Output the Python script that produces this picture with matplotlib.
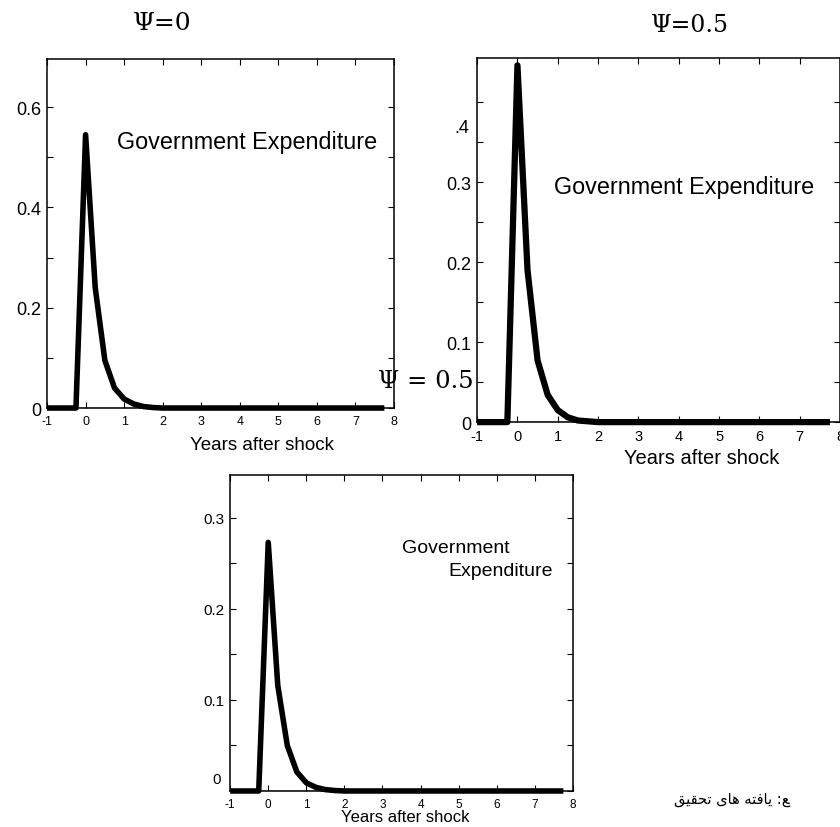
import numpy as np
import matplotlib
matplotlib.use("Agg")
import matplotlib.pyplot as plt

plt.rcParams['font.family'] = ['Liberation Sans', 'DejaVu Sans']

# quarters after the shock
years = [-1.0, -0.75, -0.5, -0.25, 0.0, 0.25, 0.5, 0.75, 1.0, 1.25, 1.5, 1.75,
         2.0, 2.25, 2.5, 2.75, 3.0, 3.25, 3.5, 3.75, 4.0, 4.25, 4.5, 4.75,
         5.0, 5.25, 5.5, 5.75, 6.0, 6.25, 6.5, 6.75, 7.0, 7.25, 7.5, 7.75]

# government expenditure response, psi = 0
gov_psi0 = [0, 0, 0, 0, 0.545, 0.240, 0.095, 0.040, 0.018, 0.008, 0.003, 0.001,
            0, 0, 0, 0, 0, 0, 0, 0, 0, 0, 0, 0,
            0, 0, 0, 0, 0, 0, 0, 0, 0, 0, 0, 0]
# psi = 0.5
gov_psi05 = [0, 0, 0, 0, 0.446, 0.190, 0.077, 0.034, 0.015, 0.006, 0.002, 0.001,
             0, 0, 0, 0, 0, 0, 0, 0, 0, 0, 0, 0,
             0, 0, 0, 0, 0, 0, 0, 0, 0, 0, 0, 0]
# third panel
gov_psi3 = [0, 0, 0, 0, 0.273, 0.116, 0.050, 0.021, 0.009, 0.004, 0.0015, 0.0005,
            0, 0, 0, 0, 0, 0, 0, 0, 0, 0, 0, 0,
            0, 0, 0, 0, 0, 0, 0, 0, 0, 0, 0, 0]

xticks = [-1, 0, 1, 2, 3, 4, 5, 6, 7, 8]

W, H = 840, 828
fig = plt.figure(figsize=(8.4, 8.28), dpi=100)


def px(x, y):
    # pixel position -> figure fraction
    return x / W, 1 - y / H


def panel(rect, y, ylim, yticks, ylabels, xfs, yfs, lw):
    ax = fig.add_axes(rect)
    ax.plot(years[3:], [0] * len(years[3:]), color='#1a1ad0', lw=1.0, zorder=2)
    ax.plot(years, y, color='black', lw=lw, solid_capstyle='butt',
            solid_joinstyle='round', zorder=3, clip_on=False)
    ax.set_xlim(-1, 8)
    ax.set_ylim(*ylim)
    ax.set_xticks(xticks)
    ax.set_xticklabels([str(t) for t in xticks], fontsize=xfs)
    ax.set_yticks(yticks)
    ax.set_yticklabels(ylabels, fontsize=yfs)
    ax.tick_params(direction='in', length=4, width=0.8, top=True, right=True)
    ax.tick_params(axis='x', pad=5)
    ax.tick_params(axis='y', pad=4)
    for s in ax.spines.values():
        s.set_linewidth(1.1)
    return ax


ax1 = panel([0.056, 0.506, 0.413, 0.4215], gov_psi0, (0, 0.696),
            [0, 0.1, 0.2, 0.3, 0.4, 0.5, 0.6],
            ['0', '', '0.2', '', '0.4', '', '0.6'], 9, 13, 4)
ax1.text(0.81, 0.532, 'Government Expenditure', fontsize=16.8, va='center', ha='left')
fig.text(*px(262, 445), 'Years after shock', fontsize=13.5, ha='center', va='center')

ax2 = panel([0.568, 0.489, 0.432, 0.4396], gov_psi05, (0, 0.455),
            [0, 0.05, 0.1, 0.15, 0.2, 0.25, 0.3, 0.35, 0.4],
            ['0', '', '0.1', '', '0.2', '', '0.3', '', ''], 10.5, 13, 4.5)
ax2.text(0.9, 0.295, 'Government Expenditure', fontsize=16.8, va='center', ha='left')
ax2.text(-1.2, 0.368, '.4', fontsize=13, va='center', ha='right')
fig.text(*px(702, 459), 'Years after shock', fontsize=14.5, ha='center', va='center')

ax3 = panel([0.274, 0.0435, 0.408, 0.3816], gov_psi3, (0, 0.347),
            [0, 0.05, 0.1, 0.15, 0.2, 0.25, 0.3],
            ['', '', '0.1', '', '0.2', '', '0.3'], 8.5, 11, 4)
ax3.text(-1.25, 0.013, '0', fontsize=11, va='center', ha='right')
ax3.text(6.35, 0.267, 'Government', fontsize=14, va='center', ha='right')
ax3.text(7.48, 0.242, 'Expenditure', fontsize=14, va='center', ha='right')
fig.text(*px(405, 818), 'Years after shock', fontsize=12, ha='center', va='center')

# titles and overlays
fig.text(*px(162, 24), '\u03a8=0', fontsize=18, family='DejaVu Serif',
         ha='center', va='center')
fig.text(*px(690, 25), '\u03a8=0.5', fontsize=17, family='DejaVu Serif',
         ha='center', va='center')
fig.text(*px(426, 381), '\u03a8 = 0.5', fontsize=17.5, family='DejaVu Serif',
         ha='center', va='center')

# source note (visual order, presentation forms)
fig.text(*px(790, 800),
         '\ufed6\ufbff\ufed8\ufea4\ufe97 \ufbfc\ufe8e\ufeeb \ufeea\ufe98\ufed3\ufe8e\ufbfe :\ufeca',
         fontsize=10.5, family=['DejaVu Sans'], ha='right', va='center')

fig.savefig('out.png', dpi=100, facecolor='white')
